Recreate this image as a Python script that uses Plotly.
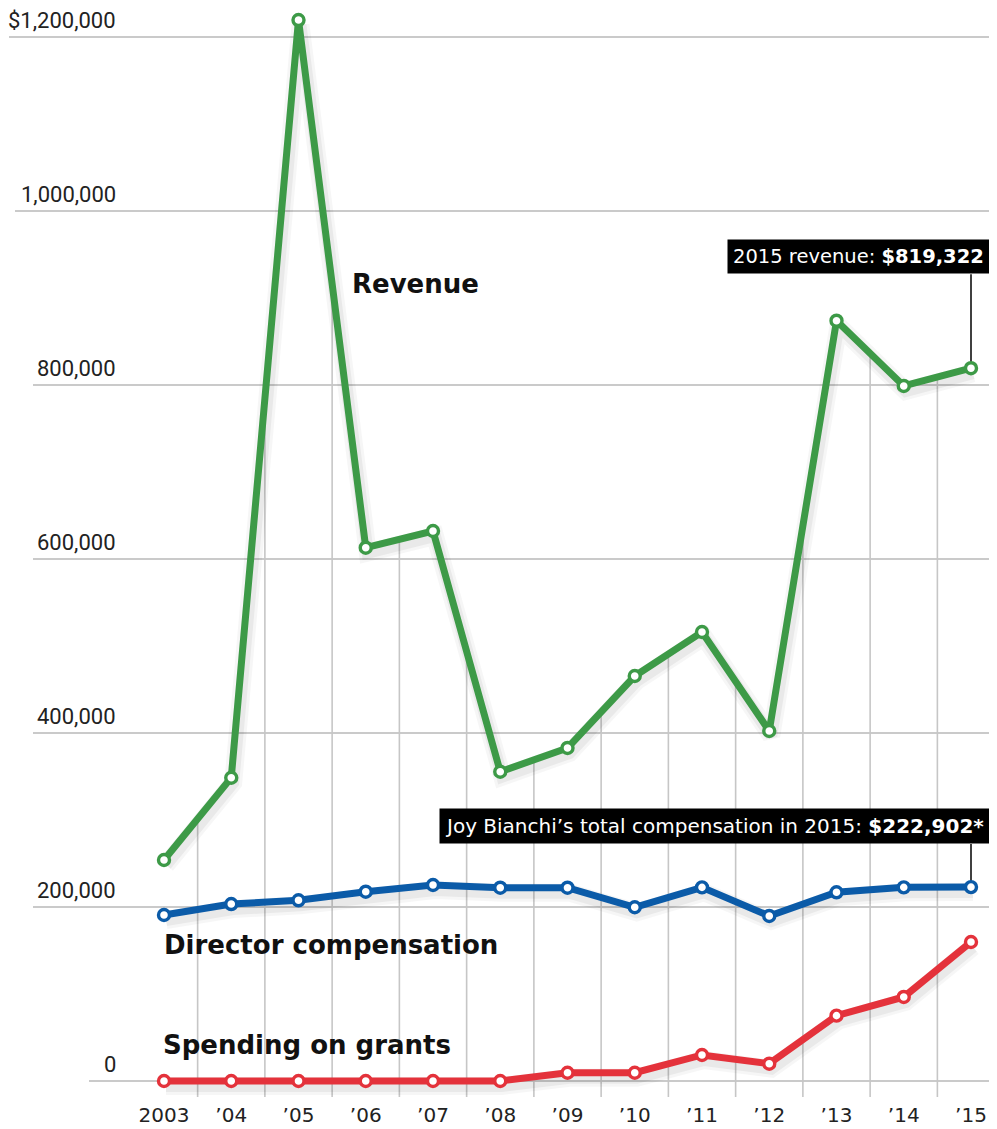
import plotly.graph_objects as go

# ---------------- data ----------------
years = ["2003", "’04", "’05", "’06", "’07", "’08", "’09", "’10", "’11", "’12", "’13", "’14", "’15"]
revenue = [254000, 348600, 1219500, 613000, 632200, 355500, 382800, 465500, 516100, 402300, 873900, 798900, 819322]
director_comp = [190800, 203400, 207700, 217600, 225300, 222200, 222200, 199700, 222600, 189700, 216900, 222600, 222902]
grants = [0, 0, 0, 0, 0, 0, 9500, 9500, 29900, 19900, 75100, 96600, 159800]
y_tick_vals = [0, 200000, 400000, 600000, 800000, 1000000, 1200000]
y_tick_text = ["0", "200,000", "400,000", "600,000", "800,000", "1,000,000", "$1,200,000"]

# ---------------- style ----------------
# page body adds an 8px margin, so the figure is 8px smaller than the window
W, H = 989, 1121
PLOT_RIGHT_PX = 982
X_STEP_PX = 67.25
X0_PX = 156
PX_PER_UNIT = 174 / 200000
GREEN, BLUE, RED = "#3d9a47", "#0b5ba8", "#e4323b"
GRID = "#b9b9b9"
VGRID = "#c6c6c6"
grid_start_px = [81, 25, 25, 25, 25, 7, 1]
SHADOW_DX_PX, SHADOW_DY_PX = 2, 5

x = list(range(len(years)))
x_range = [-X0_PX / X_STEP_PX, (PLOT_RIGHT_PX - X0_PX) / X_STEP_PX]
y_range = [-16 / PX_PER_UNIT, 1071 / PX_PER_UNIT]
dxs = SHADOW_DX_PX / X_STEP_PX
dys = SHADOW_DY_PX / PX_PER_UNIT
x_range_sh = [x_range[0] - dxs, x_range[1] - dxs]
y_range_sh = [y_range[0] + dys, y_range[1] + dys]

fig = go.Figure()

series = [(grants, RED), (director_comp, BLUE), (revenue, GREEN)]

# soft drop shadows (overlay axes shifted a few pixels)
for vals, _ in series:
    for w, a in [(18, 0.035), (12, 0.05)]:
        fig.add_trace(go.Scatter(
            x=x, y=vals, mode="lines", xaxis="x2", yaxis="y2",
            line=dict(color=f"rgba(0,0,0,{a})", width=w),
            hoverinfo="skip", showlegend=False))

for vals, color in series:
    fig.add_trace(go.Scatter(
        x=x, y=vals, mode="lines+markers", xaxis="x3", yaxis="y3",
        line=dict(color=color, width=7),
        marker=dict(symbol="circle", size=11, color="white",
                    line=dict(color=color, width=3.4)),
        hoverinfo="skip", showlegend=False, cliponaxis=False))

shapes = []
# horizontal grid lines
for v, sp in zip(y_tick_vals, grid_start_px):
    shapes.append(dict(type="line", xref="paper", yref="y",
                       x0=sp / PLOT_RIGHT_PX, x1=1, y0=v, y1=v,
                       line=dict(color=GRID, width=1.6), layer="below"))
# vertical grid lines between years, running up to the revenue line
for i in range(len(years) - 1):
    top = (revenue[i] + revenue[i + 1]) / 2
    shapes.append(dict(type="line", xref="x", yref="y",
                       x0=i + 0.5, x1=i + 0.5, y0=y_range[0], y1=top,
                       line=dict(color=VGRID, width=1.6), layer="below"))
# leader lines for callouts
shapes.append(dict(type="line", xref="x", yref="y", ysizemode="pixel",
                   yanchor=revenue[-1], x0=x[-1], x1=x[-1], y0=0, y1=94,
                   line=dict(color="black", width=1.5), layer="below"))
shapes.append(dict(type="line", xref="x", yref="y", ysizemode="pixel",
                   yanchor=director_comp[-1], x0=x[-1], x1=x[-1], y0=0, y1=43,
                   line=dict(color="black", width=1.5), layer="below"))

annotations = []
# y tick labels (sitting above their grid lines)
for v, t in zip(y_tick_vals, y_tick_text):
    annotations.append(dict(xref="paper", yref="y", x=110 / PLOT_RIGHT_PX, y=v,
                            text=t, showarrow=False, xanchor="right", yanchor="middle",
                            yshift=17, font=dict(family="Roboto", size=22, color="#222222")))

label_font = dict(family="DejaVu Sans", size=26, color="#111111", weight="bold")
annotations += [
    dict(xref="x", yref="y", x=2.76, y=916667, text="Revenue", showarrow=False,
         xanchor="left", yanchor="middle", font=label_font),
    dict(xref="x", yref="y", x=-0.03, y=156322, text="Director compensation", showarrow=False,
         xanchor="left", yanchor="middle", font=label_font),
    dict(xref="x", yref="y", x=-0.04, y=41379, text="Spending on grants", showarrow=False,
         xanchor="left", yanchor="middle", font=label_font),
]

annotations += [
    dict(xref="paper", yref="y", x=1, y=revenue[-1], yshift=94,
         text="2015 revenue: <b>$819,322</b>", showarrow=False,
         xanchor="right", yanchor="bottom", bgcolor="black", borderpad=5,
         font=dict(family="DejaVu Sans", size=19.5, color="white")),
    dict(xref="paper", yref="y", x=1, y=director_comp[-1], yshift=43,
         text="Joy Bianchi’s total compensation in 2015: <b>$222,902*</b>", showarrow=False,
         xanchor="right", yanchor="bottom", bgcolor="black", borderpad=5,
         font=dict(family="DejaVu Sans", size=20, color="white")),
]

hidden = dict(showgrid=False, zeroline=False, showline=False, showticklabels=False, ticks="")
fig.update_layout(
    width=W, height=H,
    margin=dict(l=0, r=W - PLOT_RIGHT_PX, t=2, b=32),
    paper_bgcolor="white", plot_bgcolor="white",
    shapes=shapes, annotations=annotations,
    xaxis=dict(range=x_range, tickvals=x, ticktext=years, showgrid=False,
               zeroline=False, showline=False, ticks="",
               tickfont=dict(family="DejaVu Sans", size=20, color="#222222"),
               ticklabelstandoff=4),
    yaxis=dict(range=y_range, **hidden),
    xaxis2=dict(range=x_range_sh, overlaying="x", **hidden),
    yaxis2=dict(range=y_range_sh, overlaying="y", **hidden),
    xaxis3=dict(range=x_range, overlaying="x", **hidden),
    yaxis3=dict(range=y_range, overlaying="y", **hidden),
)

fig.write_html("out.html")
